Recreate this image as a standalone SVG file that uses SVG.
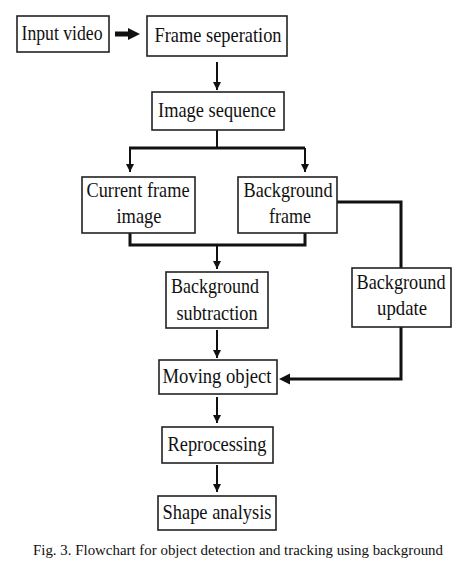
<svg xmlns="http://www.w3.org/2000/svg" width="474" height="563" viewBox="0 0 474 563">
<style>
.box{fill:#fff;stroke:#222;stroke-width:1.6}
.t{font-family:"Liberation Serif","Times New Roman",serif;font-size:21px;fill:#111;text-anchor:middle}
.cap{font-family:"Liberation Serif","Times New Roman",serif;font-size:15px;fill:#111}
.c{fill:none;stroke:#111;stroke-width:2}
.k{fill:none;stroke:#111;stroke-width:3}
</style>
<defs>
<marker id="ah" markerUnits="userSpaceOnUse" markerWidth="10" markerHeight="10" refX="8" refY="4" orient="auto">
<path d="M0,0 L8,4 L0,8 Z" fill="#111"/>
</marker>
</defs>
<rect width="474" height="563" fill="#fff"/>
<g id="connectors">
<path d="M115,31.5 H128 V28 L140,34 L128,40 V36.5 H115 Z" fill="#111"/>
<path class="c" d="M217,62 V90" marker-end="url(#ah)"/>
<path class="c" d="M217,130 V148"/>
<path class="k" d="M129,148 H305"/>
<path class="c" d="M130,148 V172" marker-end="url(#ah)"/>
<path class="c" d="M305,148 V172" marker-end="url(#ah)"/>
<path class="k" d="M130,233 V245 H305 V233"/>
<path class="c" d="M217,245 V269" marker-end="url(#ah)"/>
<path class="k" d="M337,202 H401 V268"/>
<path class="k" d="M401,327 V379 H285"/>
<path d="M279,379 L290,373.5 L290,384.5 Z" fill="#111"/>
<path class="c" d="M217,330 V358" marker-end="url(#ah)"/>
<path class="c" d="M217,397 V423" marker-end="url(#ah)"/>
<path class="c" d="M217,465 V492" marker-end="url(#ah)"/>
</g>
<g id="input-video"><rect class="box" x="17" y="16" width="92" height="36"/><text class="t" x="62" y="40" textLength="81" lengthAdjust="spacingAndGlyphs">Input video</text></g>
<g id="frame-seperation"><rect class="box" x="147" y="16" width="140" height="40"/><text class="t" x="218" y="42" textLength="127" lengthAdjust="spacingAndGlyphs">Frame seperation</text></g>
<g id="image-sequence"><rect class="box" x="152" y="92" width="132" height="38"/><text class="t" x="217" y="117" textLength="118" lengthAdjust="spacingAndGlyphs">Image sequence</text></g>
<g id="current-frame"><rect class="box" x="82" y="177" width="113" height="56"/><text class="t" x="138" y="197" textLength="103" lengthAdjust="spacingAndGlyphs">Current frame</text><text class="t" x="139" y="223" textLength="45" lengthAdjust="spacingAndGlyphs">image</text></g>
<g id="background-frame"><rect class="box" x="238" y="177" width="99" height="56"/><text class="t" x="288" y="197" textLength="89" lengthAdjust="spacingAndGlyphs">Background</text><text class="t" x="290" y="223" textLength="42" lengthAdjust="spacingAndGlyphs">frame</text></g>
<g id="background-subtraction"><rect class="box" x="166" y="272" width="102" height="56"/><text class="t" x="215" y="293" textLength="88" lengthAdjust="spacingAndGlyphs">Background</text><text class="t" x="217" y="320" textLength="81" lengthAdjust="spacingAndGlyphs">subtraction</text></g>
<g id="background-update"><rect class="box" x="352" y="268" width="99" height="59"/><text class="t" x="401" y="289" textLength="89" lengthAdjust="spacingAndGlyphs">Background</text><text class="t" x="402" y="315" textLength="50" lengthAdjust="spacingAndGlyphs">update</text></g>
<g id="moving-object"><rect class="box" x="159" y="360" width="118" height="34"/><text class="t" x="217" y="383" textLength="109" lengthAdjust="spacingAndGlyphs">Moving object</text></g>
<g id="reprocessing"><rect class="box" x="162" y="427" width="111" height="36"/><text class="t" x="217" y="451" textLength="99" lengthAdjust="spacingAndGlyphs">Reprocessing</text></g>
<g id="shape-analysis"><rect class="box" x="158" y="496" width="118" height="34"/><text class="t" x="217" y="519" textLength="109" lengthAdjust="spacingAndGlyphs">Shape analysis</text></g>
<text class="cap" x="33" y="555" textLength="410" lengthAdjust="spacingAndGlyphs">Fig. 3. Flowchart for object detection and tracking using background</text>
</svg>
